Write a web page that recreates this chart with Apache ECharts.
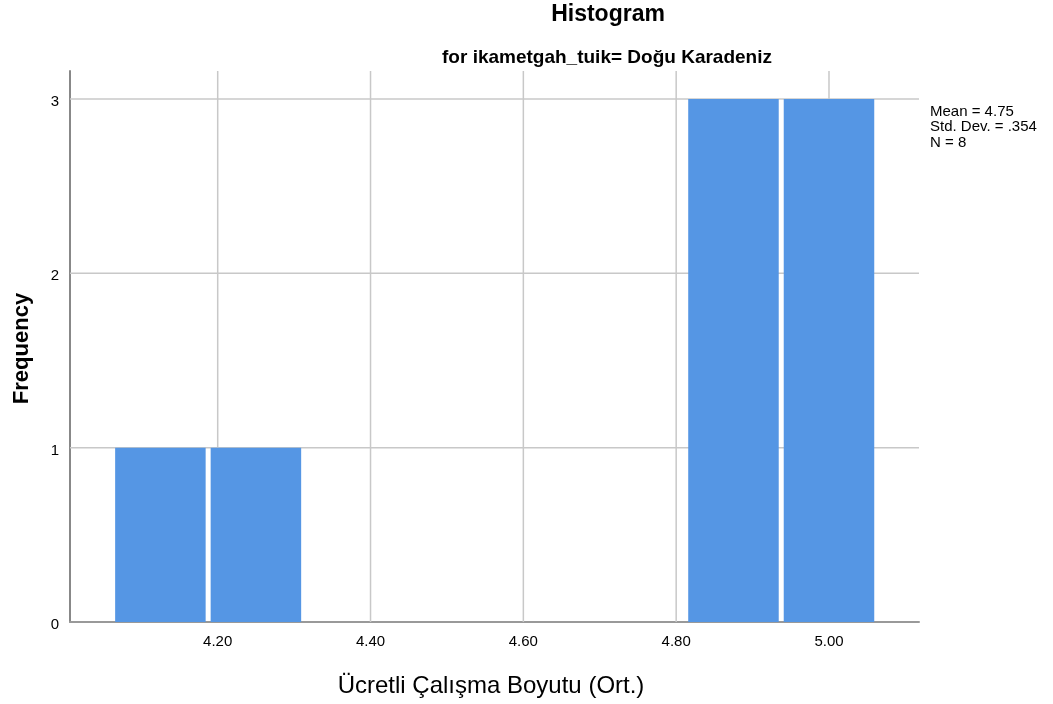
<!DOCTYPE html>
<html>
<head>
<meta charset="utf-8">
<script src="https://cdn.jsdelivr.net/npm/echarts@6/dist/echarts.min.js"></script>
<style>html,body{margin:0;padding:0;background:#fff}#c{width:1053px;height:704px}</style>
</head>
<body>
<div id="c"></div>
<script>
const binStarts = [4.0625, 4.1875, 4.8125, 4.9375];
const binEnds = [4.1875, 4.3125, 4.9375, 5.0625];
const frequencies = [1, 1, 3, 3];
const xTicks = [4.2, 4.4, 4.6, 4.8, 5.0];
const yTicks = [0, 1, 2, 3];
const statsLines = ['Mean = 4.75', 'Std. Dev. = .354', 'N = 8'];
const titleText = 'Histogram';
const subtitleText = 'for ikametgah_tuik= Doğu Karadeniz';
const xName = 'Ücretli Çalışma Boyutu (Ort.)';
const yName = 'Frequency';

const FONT = '"Liberation Sans", Arial, sans-serif';
const XMIN = 4.0067, XMAX = 5.1178, YMAX = 3.16;
const chart = echarts.init(document.getElementById('c'), null, {renderer: 'canvas'});
const data = binStarts.map((s, i) => [s, binEnds[i], frequencies[i]]);

const graphics = [
  {type: 'text', x: 608, y: 15, style: {text: titleText, font: 'bold 23px ' + FONT, fill: '#000', align: 'center', verticalAlign: 'middle'}},
  {type: 'text', x: 607, y: 57.5, style: {text: subtitleText, font: 'bold 19px ' + FONT, fill: '#000', align: 'center', verticalAlign: 'middle'}},
  {type: 'text', x: 491, y: 686, style: {text: xName, font: '24px ' + FONT, fill: '#000', align: 'center', verticalAlign: 'middle'}},
  {type: 'text', x: 22, y: 348.5, rotation: Math.PI / 2, style: {text: yName, font: 'bold 22px ' + FONT, fill: '#000', align: 'center', verticalAlign: 'middle'}}
].concat(statsLines.map((t, i) => ({
  type: 'text', x: 930, y: 111.7 + i * 15.5,
  style: {text: t, font: '15px ' + FONT, fill: '#000', align: 'left', verticalAlign: 'middle'}
})));

chart.setOption({
  backgroundColor: '#fff',
  animation: false,
  grid: {left: 70, right: 134, top: 71, bottom: 82, containLabel: false, outerBoundsMode: 'none'},
  xAxis: {
    type: 'value', min: XMIN, max: XMAX,
    axisLine: {show: true, lineStyle: {color: '#999', width: 2}},
    axisTick: {show: false},
    splitLine: {show: false},
    axisLabel: {show: false}
  },
  yAxis: {
    type: 'value', min: 0, max: YMAX,
    axisLine: {show: true, lineStyle: {color: '#888', width: 2}},
    axisTick: {show: false},
    splitLine: {show: false},
    axisLabel: {show: false}
  },
  graphic: graphics,
  series: [
    {
      type: 'custom',
      z: 1,
      renderItem: function (params, api) {
        const children = [];
        const y0 = api.coord([XMIN, 0])[1];
        const yTop = api.coord([XMIN, YMAX])[1];
        const xL = api.coord([XMIN, 0])[0];
        const xR = api.coord([XMAX, 0])[0];
        yTicks.forEach(v => {
          const y = api.coord([XMIN, v])[1];
          if (v > 0) children.push({type: 'line', shape: {x1: xL, y1: y, x2: xR, y2: y},
            style: {stroke: '#c8c8c8', lineWidth: 1.5}});
          children.push({type: 'text', style: {text: String(v), x: xL - 11, y: y + 3,
            align: 'right', verticalAlign: 'middle', font: '15px ' + FONT, fill: '#000'}});
        });
        xTicks.forEach(v => {
          const x = api.coord([v, 0])[0];
          children.push({type: 'line', shape: {x1: x, y1: yTop, x2: x, y2: y0},
            style: {stroke: '#c8c8c8', lineWidth: 1.5}});
          children.push({type: 'text', style: {text: v.toFixed(2), x: x, y: y0 + 20,
            align: 'center', verticalAlign: 'middle', font: '15px ' + FONT, fill: '#000'}});
        });
        return {type: 'group', children: children};
      },
      data: [[0]]
    },
    {
      type: 'custom',
      z: 2,
      renderItem: function (params, api) {
        const s = api.value(0), e = api.value(1), f = api.value(2);
        const p0 = api.coord([s, 0]);
        const p1 = api.coord([e, f]);
        return {type: 'rect',
          shape: {x: p0[0] + 2.5, y: p1[1], width: p1[0] - p0[0] - 5, height: p0[1] - p1[1]},
          style: {fill: '#5596E4'}};
      },
      data: data
    }
  ]
});
</script>
</body>
</html>
